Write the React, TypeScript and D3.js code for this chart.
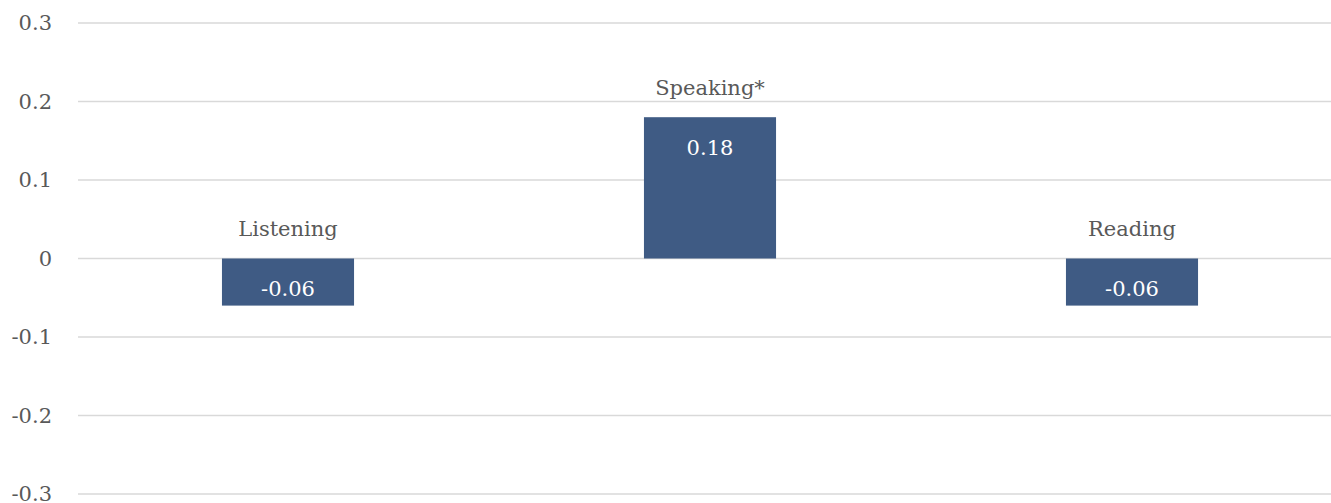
import React from "react";
import * as d3 from "d3";

const categories = ["Listening", "Speaking*", "Reading"];
const values = [-0.06, 0.18, -0.06];
const yTicks = [0.3, 0.2, 0.1, 0, -0.1, -0.2, -0.3];

const W = 1331;
const H = 503;
const FONT = "'DejaVu Serif', serif";

const fmtTick = (t: number) => d3.format("")(t).replace("\u2212", "-");
const fmtVal = (v: number) => d3.format(".2f")(v).replace("\u2212", "-");

export default function App() {
  const x = d3.scaleBand<string>().domain(categories).range([77, 1343]).paddingInner(0.687).paddingOuter(0.3435);
  const y = d3.scaleLinear().domain([-0.3, 0.3]).range([494, 23]);
  const bw = x.bandwidth();
  return (
    <svg width={W} height={H} style={{ position: "absolute", left: 0, top: 0, background: "#fff" }}>
      {yTicks.map((t) => (
        <g key={t}>
          <line x1={78} x2={W} y1={y(t)} y2={y(t)} stroke="#d9d9d9" strokeWidth={1.5} />
          <text x={52} y={y(t)} dy="0.35em" textAnchor="end" fontFamily={FONT} fontSize={21} fill="#595959">
            {fmtTick(t)}
          </text>
        </g>
      ))}
      {categories.map((c, i) => {
        const v = values[i];
        const top = Math.min(y(v), y(0));
        const h = Math.abs(y(v) - y(0));
        const cx = (x(c) as number) + bw / 2;
        return (
          <g key={c}>
            <rect x={x(c)} y={top} width={bw} height={h} fill="#3f5b84" />
            <text x={cx} y={top - 30} dy="0.35em" textAnchor="middle" fontFamily={FONT} fontSize={21} fill="#595959">
              {c}
            </text>
            <text x={cx} y={top + 30} dy="0.35em" textAnchor="middle" fontFamily={FONT} fontSize={21} fill="#ffffff">
              {fmtVal(v)}
            </text>
          </g>
        );
      })}
    </svg>
  );
}
